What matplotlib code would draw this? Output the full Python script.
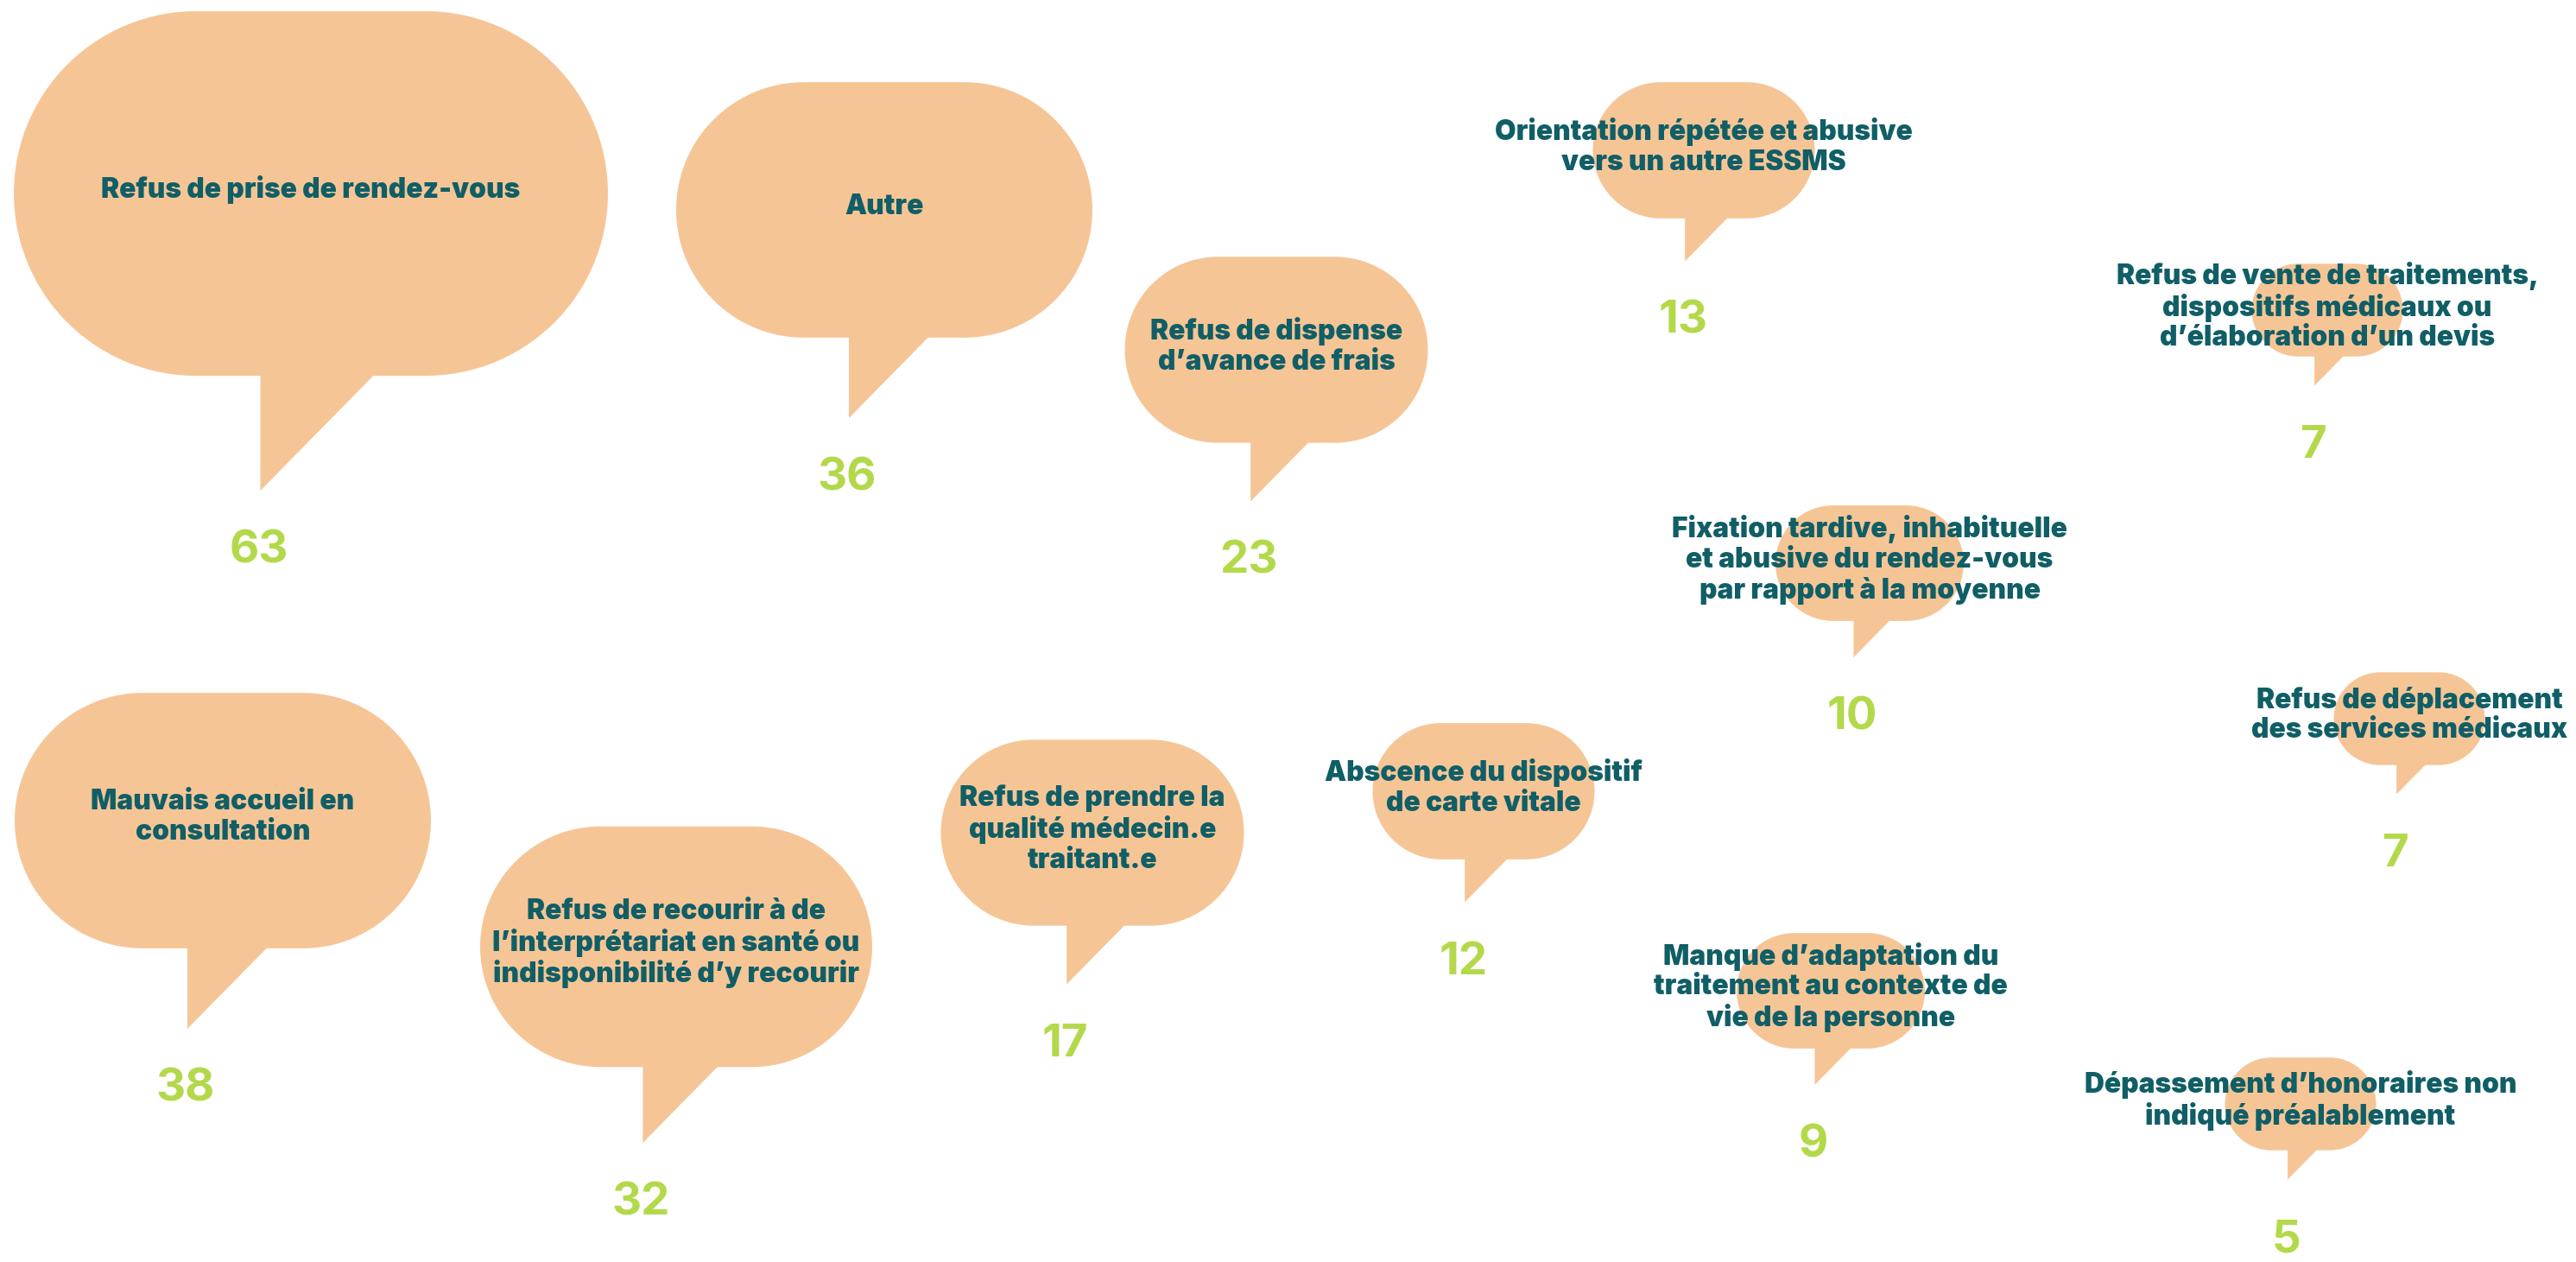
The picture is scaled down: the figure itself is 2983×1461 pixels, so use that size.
import numpy as np
import matplotlib.pyplot as plt
from matplotlib.patches import Polygon

# motifs de refus de soins et nombre de signalements
categories = [
    "Refus de prise de rendez-vous",
    "Autre",
    "Refus de dispense\nd’avance de frais",
    "Orientation répétée et abusive\nvers un autre ESSMS",
    "Refus de vente de traitements,\ndispositifs médicaux ou\nd’élaboration d’un devis",
    "Fixation tardive, inhabituelle\net abusive du rendez-vous\npar rapport à la moyenne",
    "Mauvais accueil en\nconsultation",
    "Refus de recourir à de\nl’interprétariat en santé ou\nindisponibilité d’y recourir",
    "Refus de prendre la\nqualité médecin.e\ntraitant.e",
    "Abscence du dispositif\nde carte vitale",
    "Manque d’adaptation du\ntraitement au contexte de\nvie de la personne",
    "Refus de déplacement\ndes services médicaux",
    "Dépassement d’honoraires non\nindiqué préalablement",
]
values = [63, 36, 23, 13, 7, 10, 38, 32, 17, 12, 9, 7, 5]

# placement des bulles (centre, en pixels)
bubble_x = [360, 1024, 1478, 1973, 2695, 2165, 258, 783, 1265, 1718, 2120, 2790, 2664]
bubble_y = [224, 243, 405, 174, 359, 652, 950, 1096, 964, 916, 1147, 832, 1278]

# taille des bulles par paliers de valeur
size_breaks = [8, 11, 14, 24, 33, 40]
size_widths = [175, 218, 257, 351, 454, 482, 688]

W, H = 2983, 1461
DPI = 100
BUBBLE = "#F6C596"
TEXT = "#105E66"
NUM = "#B3D94B"


def bubble_outline(cx, cy, w, h):
    # pilule (demi-cercles aux extrémités) + queue sous la bulle
    r = h / 2
    left, right = cx - w / 2, cx + w / 2
    bottom = cy + r
    tl = left + 0.415 * w
    tr = left + 0.605 * w
    tip = bottom + 0.315 * h
    t = np.linspace(-np.pi / 2, np.pi / 2, 60)
    right_arc = np.column_stack([right - r + r * np.cos(t), cy + r * np.sin(t)])
    t = np.linspace(np.pi / 2, 3 * np.pi / 2, 60)
    left_arc = np.column_stack([left + r + r * np.cos(t), cy + r * np.sin(t)])
    pts = np.vstack([
        right_arc,
        [[tr, bottom], [tl, tip], [tl, bottom]],
        left_arc,
    ])
    return pts, tl, tip


fig = plt.figure(figsize=(W / DPI, H / DPI), dpi=DPI)
fig.patch.set_facecolor("white")
ax = fig.add_axes([0, 0, 1, 1])
ax.set_xlim(0, W)
ax.set_ylim(H, 0)
ax.axis("off")

for label, v, cx, cy in zip(categories, values, bubble_x, bubble_y):
    w = size_widths[np.searchsorted(size_breaks, v, side="right")]
    h = w / 1.63
    pts, tl, tip = bubble_outline(cx, cy, w, h)
    ax.add_patch(Polygon(pts, closed=True, fc=BUBBLE, ec="none", zorder=1))

    ax.text(cx, cy - 4, label, ha="center", va="center", multialignment="center",
            fontsize=22.8, fontweight="black", family="Inter", color=TEXT,
            linespacing=1.15, zorder=3)
    ax.text(tl - 2, tip + 70, str(v), ha="center", va="center",
            fontsize=38, fontweight="bold", family="Inter", color=NUM, zorder=3)

fig.savefig("out.png", dpi=DPI, facecolor="white")
